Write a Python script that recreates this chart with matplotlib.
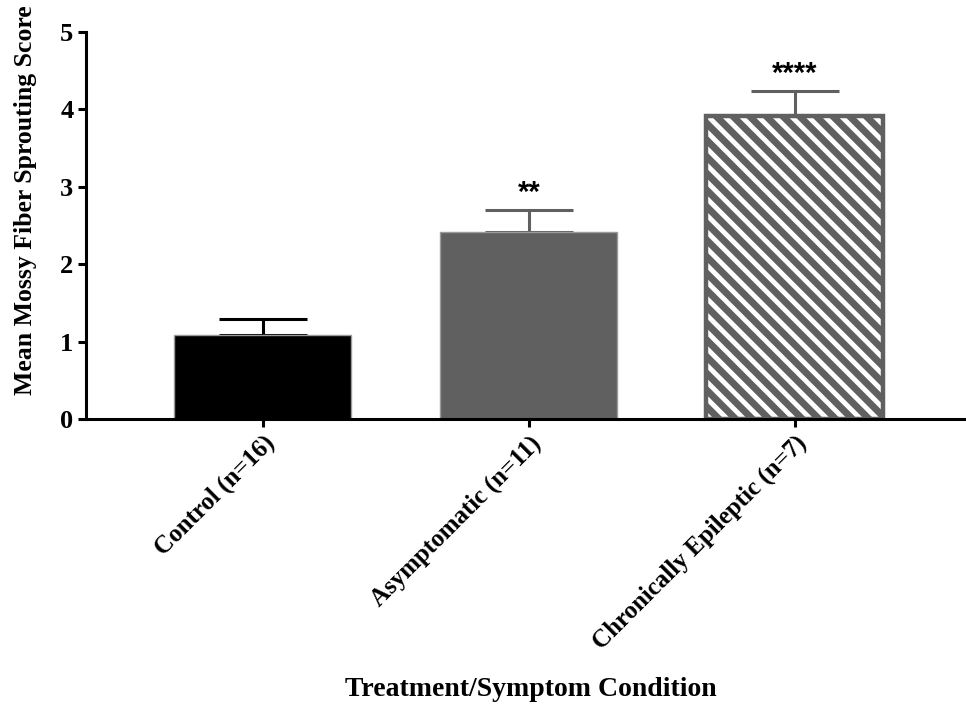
import matplotlib
matplotlib.use("Agg")
import matplotlib.pyplot as plt

categories = ["Control (n=16)", "Asymptomatic (n=11)", "Chronically Epileptic (n=7)"]
means = [1.08, 2.42, 3.92]
sem = [0.21, 0.28, 0.32]
stars = ["", "**", "****"]
yticks = [0, 1, 2, 3, 4, 5]

plt.rcParams['hatch.linewidth'] = 5.0
serif = ['Liberation Serif', 'DejaVu Serif']

fig = plt.figure(figsize=(9.66, 7.04), dpi=100)
ax = fig.add_axes([0.089, 0.405, 0.91, 0.5495])

x = list(range(len(categories)))
grey = '#606060'
face = ['black', grey, 'white']
edge = ['#9a9a9a', '#9a9a9a', grey]
lw = [1.0, 1.0, 3.2]
hatch = [None, None, '\\\\']
for i in x:
    ax.bar(x[i], means[i], width=0.665, color=face[i], edgecolor=edge[i],
           linewidth=lw[i], hatch=hatch[i], zorder=2)
errc = ['black', grey, grey]
for i in x:
    ax.errorbar(x[i], means[i], yerr=[[0], [sem[i]]], fmt='none', ecolor=errc[i],
                elinewidth=2.2, capsize=32, capthick=2.2, zorder=1)
    if stars[i]:
        ax.text(x[i], means[i] + sem[i] + 0.22, stars[i], ha='center', va='center',
                fontsize=21, fontweight='bold', family=['Liberation Sans', 'DejaVu Sans'])

ax.set_xlim(-0.665, 2.64)
ax.set_ylim(0, 5)
ax.set_yticks(yticks)
ax.set_yticklabels([str(t) for t in yticks], fontsize=19, fontweight='bold', family=serif)
ax.set_xticks(x)
ax.set_xticklabels(categories, rotation=45, ha='right', va='top', rotation_mode='anchor',
                   fontsize=18, fontweight='bold', family=serif)

for s in ['top', 'right']:
    ax.spines[s].set_visible(False)
for s in ['left', 'bottom']:
    ax.spines[s].set_linewidth(2.2)
ax.tick_params(axis='both', width=2.2, length=6, direction='out', pad=3)

fig.text(0.026, 0.716, "Mean Mossy Fiber Sprouting Score", rotation=90, ha='center', va='center',
         fontsize=18.5, fontweight='bold', family=serif)
fig.text(0.549, 0.02, "Treatment/Symptom Condition", ha='center', va='center',
         fontsize=20, fontweight='bold', family=serif)

fig.savefig("out.png", dpi=100)
